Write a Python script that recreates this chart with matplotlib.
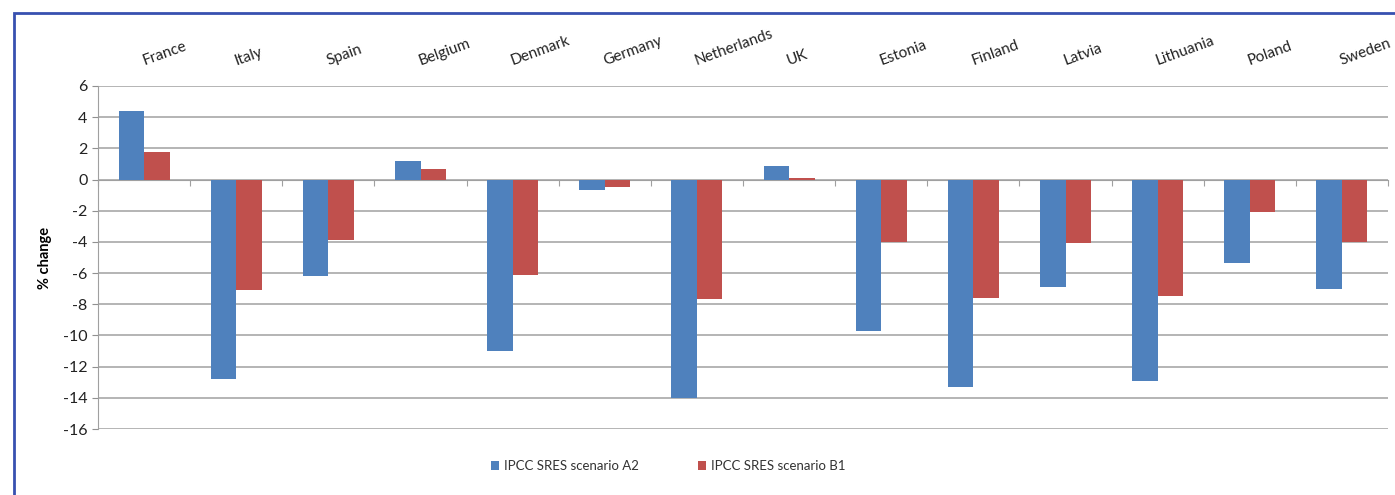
import numpy as np
import matplotlib
matplotlib.use("Agg")
import matplotlib.pyplot as plt
from matplotlib.patches import Rectangle

countries = ['France', 'Italy', 'Spain', 'Belgium', 'Denmark', 'Germany', 'Netherlands',
             'UK', 'Estonia', 'Finland', 'Latvia', 'Lithuania', 'Poland', 'Sweden']
a2 = [4.4, -12.8, -6.2, 1.2, -11.0, -0.7, -14.0, 0.9, -9.7, -13.3, -6.9, -12.9, -5.35, -7.0]
b1 = [1.75, -7.1, -3.9, 0.7, -6.1, -0.5, -7.65, 0.1, -4.0, -7.6, -4.05, -7.5, -2.05, -4.0]
yticks = list(range(-16, 7, 2))

plt.rcParams['font.family'] = ['Lato', 'DejaVu Sans']
plt.rcParams['axes.unicode_minus'] = False

fig = plt.figure(figsize=(13.95, 4.95), dpi=100)
ax = fig.add_axes([0.0703, 0.1333, 0.9247, 0.693])

x = np.arange(len(countries))
w = 0.277
ax.bar(x - w/2, a2, w, color='#4F81BD', label='IPCC SRES scenario A2', zorder=3)
ax.bar(x + w/2, b1, w, color='#C0504D', label='IPCC SRES scenario B1', zorder=3)

ax.set_xlim(-0.5, len(countries) - 0.5)
ax.set_ylim(-16, 6)
ax.set_yticks(yticks)
ax.tick_params(axis='y', labelsize=11.5, colors='#909090', labelcolor='#222222', length=4)
ax.yaxis.grid(True, color='#a8a8a8', linewidth=1.2, zorder=0)

# zero line as x axis with ticks at category boundaries
ax.spines['bottom'].set_position(('data', 0))
ax.spines['bottom'].set_color('#a0a0a0')
ax.spines['left'].set_color('#a0a0a0')
ax.spines['top'].set_visible(False)
ax.spines['right'].set_visible(False)
ax.set_xticks(np.arange(len(countries) + 1) - 0.5)
ax.set_xticklabels([])
ax.tick_params(axis='x', direction='out', length=4, colors='#a0a0a0')

for i, c in enumerate(countries):
    ax.text(i, 1.06, c, transform=ax.get_xaxis_transform(), rotation=20,
            rotation_mode='anchor', ha='left', va='baseline', fontsize=11, color='#222222')

ax.set_ylabel('% change', fontsize=10.5, fontweight='bold', labelpad=8)

fig.legend(loc='center', bbox_to_anchor=(0.479, 0.058), ncol=2, frameon=False,
           fontsize=9.5, handlelength=0.6, handleheight=0.6, columnspacing=4.5,
           handletextpad=0.4, labelcolor='#333333')

# blue frame around the figure
fig.patches.append(Rectangle((14/1395, -0.1), 1.2, (495 - 13)/495 + 0.1,
                             transform=fig.transFigure, fill=False,
                             edgecolor='#3850B0', linewidth=2))

fig.savefig('out.png', dpi=100)
